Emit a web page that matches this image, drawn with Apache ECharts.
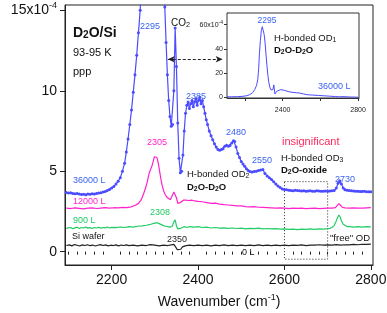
<!DOCTYPE html>
<html><head><meta charset="utf-8">
<script src="https://cdn.jsdelivr.net/npm/echarts@6/dist/echarts.min.js"></script>
<style>html,body{margin:0;padding:0;background:#fff}#c{width:387px;height:313px}</style>
</head><body><div id="c"></div><script>
// ---------- tick values ----------
const xTicks = [2200, 2400, 2600, 2800];
const xMinorTicks = [2100,2120,2140,2160,2180,2220,2240,2260,2280,2300,2320,2340,2360,2380,2420,2440,2460,2480,2500,2520,2540,2560,2580,2620,2640,2660,2680,2700,2720,2740,2760,2780];
const yTicks = [0, 5, 10, 15];
const insetXTicks = [2200, 2400, 2600, 2800];
const insetXLabels = [2400, 2800];
const insetYTicks = [0, 20, 40, 60];

// ---------- series data [wavenumber, SFG intensity x1e-4] ----------
const s36000 = [[2095,3.68],[2100,3.64],[2105,3.66],[2110,3.62],[2115,3.60],[2120,3.62],[2125,3.58],[2130,3.55],[2135,3.57],[2140,3.54],[2145,3.58],[2150,3.56],[2155,3.60],[2160,3.58],[2165,3.62],[2170,3.64],[2175,3.66],[2180,3.70],[2185,3.74],[2190,3.80],[2195,3.86],[2200,3.95],[2205,4.05],[2210,4.20],[2215,4.38],[2220,4.60],[2225,5.00],[2230,5.50],[2234,6.20],[2238,7.00],[2242,7.90],[2246,8.80],[2250,9.90],[2254,11.0],[2258,12.2],[2262,13.6],[2266,15.0],[2270,17.5],[2275,22],[2280,30],[2285,40],[2290,50],[2295,56],[2300,54],[2305,46],[2310,36],[2315,26],[2320,18],[2323,15.2],[2326,13.0],[2329,11.0],[2332,9.4],[2335,8.4],[2338,7.8],[2341,7.9],[2344,10.0],[2347,13.9],[2350,11.5],[2353,8.0],[2356,5.8],[2359,4.9],[2362,5.0],[2365,6.0],[2368,7.5],[2371,8.6],[2374,9.1],[2377,9.3],[2380,8.9],[2383,9.2],[2386,9.4],[2389,9.0],[2392,9.3],[2395,9.5],[2398,9.1],[2401,9.4],[2404,9.6],[2407,9.2],[2410,9.4],[2413,9.0],[2416,8.6],[2419,8.2],[2422,7.9],[2426,7.5],[2430,7.2],[2434,6.95],[2438,6.7],[2442,6.5],[2446,6.35],[2450,6.3],[2454,6.35],[2458,6.4],[2462,6.55],[2466,6.62],[2470,6.55],[2474,6.6],[2478,6.75],[2482,6.9],[2485,6.85],[2488,6.5],[2492,6.1],[2496,5.85],[2500,5.6],[2504,5.45],[2508,5.3],[2512,5.15],[2516,5.05],[2520,4.98],[2525,4.95],[2530,4.98],[2535,5.0],[2540,5.05],[2545,5.08],[2550,5.1],[2555,4.85],[2560,4.7],[2565,4.6],[2570,4.48],[2575,4.35],[2580,4.2],[2585,4.08],[2590,3.98],[2595,3.9],[2600,3.86],[2605,3.84],[2610,3.82],[2615,3.80],[2620,3.78],[2625,3.81],[2630,3.8],[2635,3.78],[2640,3.77],[2645,3.79],[2650,3.76],[2655,3.77],[2660,3.78],[2665,3.75],[2670,3.76],[2675,3.78],[2680,3.77],[2685,3.75],[2690,3.75],[2695,3.77],[2700,3.76],[2705,3.77],[2710,3.78],[2715,3.8],[2720,3.95],[2724,4.25],[2728,4.4],[2732,4.2],[2736,3.95],[2740,3.85],[2745,3.82],[2750,3.8],[2755,3.78],[2760,3.77],[2765,3.75],[2770,3.76],[2775,3.74],[2780,3.74],[2785,3.75],[2790,3.73],[2795,3.72],[2800,3.72]];

const s12000 = [[2095,2.70],[2105,2.68],[2115,2.72],[2125,2.69],[2135,2.66],[2145,2.70],[2155,2.72],[2165,2.68],[2175,2.71],[2185,2.74],[2195,2.70],[2205,2.73],[2215,2.72],[2225,2.75],[2235,2.74],[2245,2.78],[2255,2.88],[2262,3.0],[2268,3.2],[2274,3.6],[2279,4.0],[2283,4.4],[2287,4.9],[2290,5.1],[2293,5.3],[2296,5.6],[2299,5.9],[2302,6.0],[2305,5.85],[2308,5.5],[2311,5.0],[2314,4.5],[2317,4.1],[2320,3.8],[2324,3.55],[2328,3.38],[2332,3.28],[2336,3.22],[2340,3.3],[2344,3.7],[2347,3.75],[2350,3.35],[2353,3.0],[2356,2.92],[2359,3.05],[2362,3.12],[2366,3.2],[2372,3.2],[2378,3.18],[2385,3.2],[2392,3.15],[2400,3.12],[2410,3.1],[2420,3.05],[2430,3.0],[2440,3.02],[2450,2.95],[2460,2.92],[2470,2.9],[2480,2.88],[2490,2.85],[2500,2.84],[2510,2.8],[2520,2.78],[2530,2.8],[2540,2.76],[2550,2.75],[2560,2.74],[2570,2.72],[2580,2.7],[2590,2.72],[2600,2.7],[2610,2.68],[2620,2.7],[2630,2.69],[2640,2.7],[2650,2.68],[2660,2.69],[2670,2.7],[2680,2.68],[2690,2.69],[2700,2.7],[2710,2.7],[2718,2.74],[2722,2.85],[2726,2.98],[2730,2.88],[2734,2.76],[2740,2.72],[2750,2.7],[2760,2.72],[2770,2.71],[2780,2.7],[2790,2.72],[2800,2.73]];

const s900 = [[2095,1.45],[2100,1.48],[2105,1.50],[2110,1.42],[2115,1.48],[2120,1.52],[2125,1.44],[2130,1.50],[2135,1.47],[2140,1.53],[2145,1.46],[2150,1.49],[2155,1.44],[2160,1.50],[2165,1.47],[2170,1.52],[2175,1.46],[2180,1.50],[2185,1.48],[2190,1.53],[2195,1.47],[2200,1.51],[2210,1.49],[2220,1.53],[2230,1.50],[2240,1.55],[2250,1.52],[2260,1.58],[2270,1.6],[2280,1.64],[2290,1.7],[2298,1.76],[2305,1.8],[2310,1.74],[2315,1.68],[2320,1.62],[2325,1.58],[2330,1.55],[2335,1.52],[2340,1.56],[2344,1.85],[2347,1.98],[2350,1.6],[2353,1.42],[2356,1.38],[2360,1.45],[2365,1.52],[2370,1.55],[2375,1.5],[2380,1.56],[2390,1.52],[2400,1.55],[2410,1.5],[2420,1.52],[2430,1.47],[2440,1.5],[2450,1.46],[2460,1.48],[2470,1.45],[2480,1.47],[2490,1.44],[2500,1.46],[2510,1.42],[2520,1.45],[2530,1.43],[2540,1.46],[2550,1.42],[2560,1.44],[2570,1.41],[2580,1.43],[2590,1.40],[2600,1.42],[2610,1.38],[2620,1.40],[2630,1.37],[2640,1.40],[2650,1.38],[2660,1.41],[2670,1.39],[2680,1.42],[2690,1.40],[2700,1.43],[2705,1.45],[2710,1.50],[2715,1.62],[2719,1.85],[2723,2.12],[2726,2.28],[2729,2.15],[2732,1.9],[2736,1.7],[2740,1.6],[2745,1.56],[2750,1.55],[2760,1.53],[2770,1.55],[2780,1.52],[2790,1.56],[2800,1.54]];

const sSi = [[2095,0.38],[2102,0.42],[2108,0.36],[2114,0.44],[2120,0.40],[2126,0.35],[2132,0.42],[2138,0.38],[2144,0.43],[2150,0.37],[2156,0.41],[2162,0.35],[2168,0.40],[2174,0.44],[2180,0.38],[2186,0.42],[2192,0.36],[2198,0.40],[2204,0.38],[2210,0.42],[2216,0.36],[2222,0.41],[2228,0.38],[2234,0.42],[2240,0.37],[2250,0.40],[2260,0.36],[2270,0.41],[2280,0.38],[2290,0.44],[2300,0.40],[2310,0.36],[2320,0.40],[2330,0.38],[2338,0.42],[2344,0.45],[2348,0.30],[2352,0.12],[2356,0.02],[2360,0.15],[2364,0.30],[2370,0.36],[2380,0.40],[2390,0.38],[2400,0.41],[2410,0.37],[2420,0.40],[2430,0.36],[2440,0.40],[2450,0.38],[2460,0.42],[2470,0.37],[2480,0.40],[2490,0.38],[2500,0.41],[2510,0.37],[2520,0.40],[2530,0.38],[2540,0.42],[2550,0.38],[2560,0.40],[2570,0.37],[2580,0.41],[2590,0.38],[2600,0.40],[2610,0.37],[2620,0.41],[2630,0.39],[2640,0.42],[2650,0.38],[2660,0.41],[2670,0.40],[2680,0.43],[2690,0.40],[2700,0.42],[2710,0.40],[2720,0.44],[2730,0.41],[2740,0.43],[2750,0.42],[2760,0.45],[2770,0.43],[2780,0.46],[2790,0.45],[2800,0.47]];

const sInset = [[2105,0.5],[2130,0.5],[2160,0.6],[2190,0.9],[2210,1.4],[2225,2.2],[2240,3.8],[2252,6.4],[2262,10],[2268,14.6],[2273,24],[2277,36],[2282,47],[2287,55],[2292,58.3],[2297,57],[2302,52],[2307,45],[2312,35],[2317,26],[2322,18],[2327,12],[2332,8.5],[2338,6.2],[2344,5.0],[2349,6.5],[2353,10.3],[2356,7],[2359,2.8],[2363,3.5],[2368,5],[2378,6],[2390,6.4],[2400,6.2],[2410,5.8],[2420,5.2],[2435,4.6],[2455,4.1],[2475,3.8],[2490,3.6],[2510,2.9],[2530,2.2],[2560,1.9],[2590,1.6],[2620,1.3],[2650,1.0],[2680,0.7],[2700,0.5],[2720,0.6],[2728,0.9],[2736,0.5],[2760,0.3],[2790,0.2],[2800,0.2]];

// annotation anchors (data units)
const arrowFrom = [2330, 11.96], arrowTo = [2457, 11.96];
const boxFrom = [2600, 4.35], boxTo = [2700, -0.47];

const FONT = '"Liberation Sans", Arial, Helvetica, sans-serif';
const BLUE = '#4b4bff', BLUE_T = '#3a62f0', MAG = '#ff22cc', GRN = '#22cc66', BLK = '#222';

const chart = echarts.init(document.getElementById('c'), null, {renderer: 'canvas'});

function txt(x, y, text, opt) {
  opt = opt || {};
  const sz = opt.size || 9.5, fw = opt.bold ? 'bold' : 'normal', col = opt.fill || '#111';
  return {
    type: 'text', x: x, y: y, z: 100, silent: true,
    style: {
      text: text, fill: col,
      fontSize: sz, fontFamily: FONT, fontWeight: fw,
      align: opt.align || 'left', verticalAlign: 'middle',
      rich: {
        s: {fontSize: sz * 0.72, fontFamily: FONT, fontWeight: fw, fill: col, padding: [5, 0, 0, 0]},
        p: {fontSize: sz * 0.72, fontFamily: FONT, fontWeight: fw, fill: col, padding: [0, 0, 6, 0]},
        n: {fontSize: sz, fontFamily: FONT, fontWeight: fw, fill: col}
      }
    }
  };
}
const plain = function (v) { return String(v); };

const option = {
  animation: false,
  backgroundColor: '#fff',
  grid: [
    {left: 65, right: 14, top: 5, bottom: 48, outerBoundsMode: 'none', containLabel: false, show: true, borderColor: BLK, borderWidth: 1, backgroundColor: 'transparent'},
    {left: 227, top: 13, width: 132, height: 85, outerBoundsMode: 'none', containLabel: false, show: true, borderColor: '#333', borderWidth: 1, backgroundColor: '#fff', z: 3}
  ],
  xAxis: [
    {gridIndex: 0, type: 'value', min: 2092, max: 2805,
     axisLine: {show: true, onZero: false, lineStyle: {color: BLK, width: 1}},
     axisTick: {show: true, customValues: xTicks, length: 5, inside: false, lineStyle: {color: BLK}},
     axisLabel: {customValues: xTicks, formatter: plain, fontSize: 14, color: '#111', fontFamily: FONT, margin: 8},
     splitLine: {show: false},
     name: 'Wavenumber (cm{p|-1})', nameLocation: 'middle', nameGap: 28,
     nameTextStyle: {fontSize: 14, color: '#111', fontFamily: FONT,
       rich: {p: {fontSize: 9, color: '#111', fontFamily: FONT, padding: [0, 0, 9, 0]}}}},
    {gridIndex: 0, type: 'value', min: 2092, max: 2805, position: 'bottom',
     axisLine: {show: false}, axisTick: {show: true, customValues: xMinorTicks, length: 3, lineStyle: {color: BLK}},
     axisLabel: {show: false}, splitLine: {show: false}},
    {gridIndex: 1, type: 'value', min: 2105, max: 2805,
     axisLine: {show: true, onZero: false, lineStyle: {color: '#333'}},
     axisTick: {show: true, customValues: insetXTicks, length: 3, lineStyle: {color: '#333'}},
     axisLabel: {customValues: insetXLabels, formatter: plain, fontSize: 7, color: '#222', fontFamily: FONT, margin: 9},
     splitLine: {show: false}}
  ],
  yAxis: [
    {gridIndex: 0, type: 'value', min: -0.83, max: 15.33,
     axisLine: {show: true, onZero: false, lineStyle: {color: BLK}},
     axisTick: {show: true, customValues: yTicks, length: 5, lineStyle: {color: BLK}},
     axisLabel: {customValues: yTicks, fontSize: 14, color: '#111', fontFamily: FONT, margin: 8,
       formatter: function (v) { return v === 15 ? '15x10{p|-4}' : String(v); },
       rich: {p: {fontSize: 9, color: '#111', fontFamily: FONT, padding: [0, 0, 10, 0]}}},
     splitLine: {show: false},
     name: 'SFG intensity (a.u.)', nameLocation: 'middle', nameGap: 49,
     nameTextStyle: {fontSize: 14, color: '#111', fontFamily: FONT}},
    {gridIndex: 1, type: 'value', min: -0.5, max: 69.6,
     axisLine: {show: true, onZero: false, lineStyle: {color: '#333'}},
     axisTick: {show: true, customValues: insetYTicks, length: 3, lineStyle: {color: '#333'}},
     axisLabel: {customValues: insetYTicks, fontSize: 7, color: '#222', fontFamily: FONT, margin: 4,
       formatter: function (v) { return v === 60 ? '60x10{p|-4}' : String(v); },
       rich: {p: {fontSize: 5, color: '#222', fontFamily: FONT, padding: [0, 0, 5, 0]}}},
     splitLine: {show: false}}
  ],
  series: [
    {name: 'Si wafer', type: 'line', xAxisIndex: 0, yAxisIndex: 0, data: sSi, showSymbol: false,
     lineStyle: {color: BLK, width: 1.2}, itemStyle: {color: BLK}, silent: true,
     markArea: {silent: true, itemStyle: {color: 'rgba(0,0,0,0)', borderColor: BLK, borderWidth: 1, borderType: [1, 2]},
       data: [[{coord: boxFrom}, {coord: boxTo}]]}},
    {name: '900 L', type: 'line', xAxisIndex: 0, yAxisIndex: 0, data: s900, showSymbol: false,
     lineStyle: {color: GRN, width: 1.2}, itemStyle: {color: GRN}, silent: true},
    {name: '12000 L', type: 'line', xAxisIndex: 0, yAxisIndex: 0, data: s12000, showSymbol: false,
     lineStyle: {color: MAG, width: 1.2}, itemStyle: {color: MAG}, silent: true},
    {name: '36000 L', type: 'line', xAxisIndex: 0, yAxisIndex: 0, data: s36000, showSymbol: true,
     symbol: 'circle', symbolSize: 3, lineStyle: {color: BLUE, width: 1.2}, itemStyle: {color: BLUE}, silent: true,
     markLine: {silent: true, symbol: ['arrow', 'arrow'], symbolSize: [5, 7],
       lineStyle: {type: [3, 2], color: BLK, width: 1}, label: {show: false},
       data: [[{coord: arrowFrom}, {coord: arrowTo}]]}},
    {name: 'inset', type: 'line', xAxisIndex: 2, yAxisIndex: 1, data: sInset, showSymbol: false, z: 5,
     lineStyle: {color: BLUE, width: 1}, itemStyle: {color: BLUE}, silent: true}
  ],
  graphic: [
    txt(73, 33, '{n|D}{s|2}{n|O/Si}', {size: 14, bold: true}),
    txt(73, 53, '93-95 K', {size: 11}),
    txt(73, 72, 'ppp', {size: 11}),
    txt(150, 27, '2295', {fill: BLUE_T, align: 'center', size: 9}),
    txt(171, 23, '{n|CO}{s|2}', {size: 10}),
    txt(196, 97, '2385', {fill: BLUE_T, align: 'center', size: 9}),
    txt(236, 133, '2480', {fill: BLUE_T, align: 'center', size: 9}),
    txt(262, 161, '2550', {fill: BLUE_T, align: 'center', size: 9}),
    txt(187, 174, '{n|H-bonded OD}{s|2}', {size: 9.5}),
    txt(187, 187, '{n|D}{s|2}{n|O-D}{s|2}{n|O}', {size: 9.5, bold: true}),
    txt(157, 143, '2305', {fill: MAG, align: 'center', size: 9}),
    txt(160, 213, '2308', {fill: GRN, align: 'center', size: 9}),
    txt(177, 240, '2350', {fill: BLK, align: 'center', size: 9}),
    txt(242, 253, '0 L', {size: 9}),
    txt(282, 142, 'insignificant', {fill: '#ff2b5e', size: 11}),
    txt(281, 158, '{n|H-bonded OD}{s|3}', {size: 9.5}),
    txt(281, 170, '{n|D}{s|2}{n|O-oxide}', {size: 9.5, bold: true}),
    txt(345, 180, '2730', {fill: BLUE_T, align: 'center', size: 9}),
    txt(330, 238, '"free" OD', {size: 9.5}),
    txt(73, 181, '36000 L', {fill: BLUE_T, size: 9}),
    txt(73, 202, '12000 L', {fill: MAG, size: 9}),
    txt(73, 221, '900 L', {fill: GRN, size: 9}),
    txt(72, 237, 'Si wafer', {size: 9}),
    txt(267, 21, '2295', {fill: BLUE_T, align: 'center', size: 8.5}),
    txt(274, 38, '{n|H-bonded OD}{s|1}', {size: 9.5}),
    txt(274, 50, '{n|D}{s|2}{n|O-D}{s|2}{n|O}', {size: 9.5, bold: true}),
    txt(318, 87, '36000 L', {fill: BLUE_T, size: 9})
  ]
};
chart.setOption(option);
</script></body></html>
